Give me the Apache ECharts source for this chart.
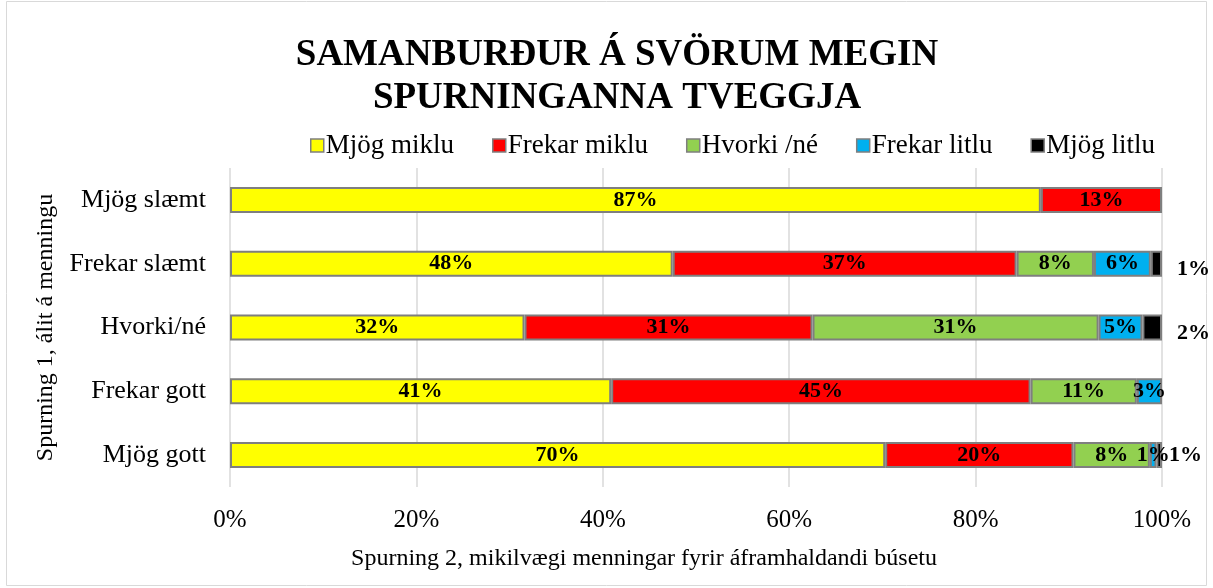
<!DOCTYPE html>
<html>
<head>
<meta charset="utf-8">
<script src="https://cdn.jsdelivr.net/npm/echarts@6/dist/echarts.min.js"></script>
<style>
html,body{margin:0;padding:0;background:#fff;}
#main{width:1213px;height:588px;}
</style>
</head>
<body>
<div id="main"></div>
<script>
var categories = ['Mjög slæmt', 'Frekar slæmt', 'Hvorki/né', 'Frekar gott', 'Mjög gott'];
var seriesNames = ['Mjög miklu', 'Frekar miklu', 'Hvorki /né', 'Frekar litlu', 'Mjög litlu'];
var seriesColors = ['#FFFF00', '#FF0000', '#92D050', '#00B0F0', '#000000'];
// prósentur, lesnar af myndinni
var mjogMiklu = [87.0, 47.5, 31.6, 40.9, 70.3];
var frekarMiklu = [13.0, 36.9, 30.9, 45.0, 20.2];
var hvorkiNe = [null, 8.3, 30.7, 11.4, 8.2];
var frekarLitlu = [null, 6.1, 4.7, 2.7, 0.7];
var mjogLitlu = [null, 1.2, 2.1, null, 0.6];
var xTicks = [0, 20, 40, 60, 80, 100];

var allData = [mjogMiklu, frekarMiklu, hvorkiNe, frekarLitlu, mjogLitlu];
var font = '"Liberation Serif", "Times New Roman", serif';

var myChart = echarts.init(document.getElementById('main'));

var series = [];
for (var i = 0; i < allData.length; i++) {
    var data = allData[i].map(function (v, j) {
        var item = { value: v };
        // svörtu merkin sem standa utan við súluna
        if (i === 4 && (j === 1 || j === 2)) {
            item.label = { position: 'right', offset: [10, 6] };
        } else if (i === 4 && j === 4) {
            item.label = { position: 'right', offset: [2, 0] };
        }
        return item;
    });
    series.push({
        name: seriesNames[i],
        type: 'bar',
        stack: 'total',
        barWidth: 26,
        data: data,
        itemStyle: {
            color: seriesColors[i],
            borderColor: '#7f7f7f',
            borderWidth: 2
        },
        label: {
            show: true,
            position: 'inside',
            color: '#000',
            fontFamily: font,
            fontWeight: 'bold',
            fontSize: 22,
            formatter: function (p) {
                if (p.value == null) return '';
                return Math.round(p.value) + '%';
            }
        }
    });
}

var option = {
    animation: false,
    backgroundColor: '#fff',
    textStyle: { fontFamily: font },
    graphic: [{
        type: 'rect',
        shape: { x: 6.5, y: 1.5, width: 1200, height: 584 },
        style: { fill: 'none', stroke: '#d9d9d9', lineWidth: 1 },
        silent: true
    }],
    title: {
        text: 'SAMANBURÐUR Á SVÖRUM MEGIN\nSPURNINGANNA TVEGGJA',
        left: 612,
        textAlign: 'center',
        top: 29,
        textStyle: {
            fontFamily: font,
            fontWeight: 'bold',
            fontSize: 37,
            lineHeight: 43,
            color: '#000'
        }
    },
    legend: {
        data: seriesNames,
        top: 127,
        left: 305,
        itemWidth: 13,
        itemHeight: 13,
        itemGap: 38,
        icon: 'rect',
        itemStyle: { borderColor: '#7f7f7f', borderWidth: 1.5 },
        textStyle: { fontFamily: font, fontSize: 27, color: '#000', padding: [0, 0, 0, -3] }
    },
    grid: {
        left: 230,
        right: 51,
        top: 168,
        bottom: 101,
        containLabel: false
    },
    xAxis: {
        type: 'value',
        min: 0,
        max: 100,
        interval: 20,
        axisLine: { show: false },
        axisTick: { show: false },
        splitLine: { lineStyle: { color: '#d9d9d9', width: 1.5 } },
        axisLabel: {
            fontFamily: font,
            fontSize: 25,
            color: '#000',
            margin: 21,
            formatter: function (v) { return xTicks.indexOf(v) >= 0 ? v + '%' : ''; }
        },
        name: 'Spurning 2, mikilvægi menningar fyrir áframhaldandi búsetu',
        nameLocation: 'middle',
        nameGap: 60,
        nameTextStyle: { fontFamily: font, fontSize: 24, color: '#000', padding: [0, 104, 0, 0] }
    },
    yAxis: {
        type: 'category',
        inverse: true,
        data: categories,
        axisLine: { show: false },
        axisTick: { show: false },
        axisLabel: { fontFamily: font, fontSize: 26, color: '#000', margin: 24 },
        name: 'Spurning 1, álit á menningu',
        nameLocation: 'middle',
        nameGap: 172,
        nameRotate: 90,
        nameTextStyle: { fontFamily: font, fontSize: 24, color: '#000' }
    },
    series: series
};

myChart.setOption(option);
</script>
</body>
</html>
